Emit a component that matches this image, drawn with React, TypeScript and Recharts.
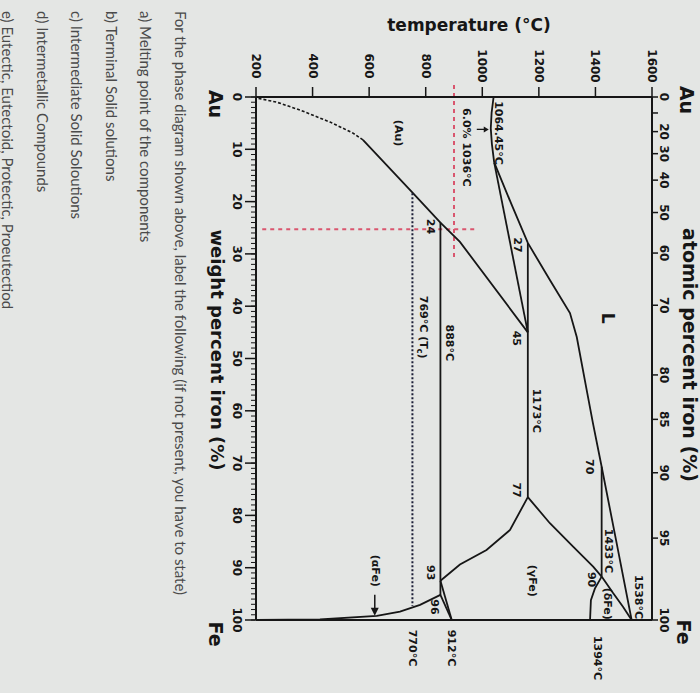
import React from "react";
import {
  ComposedChart,
  Line,
  XAxis,
  YAxis,
  ReferenceLine,
  ReferenceDot,
} from "recharts";

type Pt = { t: number; w: number };

// axis ticks: temperature (°C), weight % Fe, atomic % Fe
const tempTicks = [200, 400, 600, 800, 1000, 1200, 1400, 1600];
const tempMinorTicks = Array.from({ length: 71 }, (_, i) => 200 + i * 20);
const wtTicks = [0, 10, 20, 30, 40, 50, 60, 70, 80, 90, 100];
const wtMinorTicks = Array.from({ length: 101 }, (_, i) => i);
const atTicks = [0, 10, 20, 30, 40, 50, 60, 70, 80, 85, 90, 95, 100];
const atLabels = ["0", "", "20", "30", "40", "50", "60", "70", "80", "85", "90", "95", "100"];

// phase boundaries (t = °C, w = wt% Fe)
const auMelt: Pt[] = [
  { t: 1040, w: 0 }, { t: 1033, w: 3 }, { t: 1030, w: 6 }, { t: 1034, w: 9 }, { t: 1042, w: 12.5 },
];
const liquidus: Pt[] = [
  { t: 1042, w: 12.5 }, { t: 1103, w: 20.5 }, { t: 1161, w: 27.9 }, { t: 1239, w: 35 },
  { t: 1310, w: 41.3 }, { t: 1334, w: 45.9 }, { t: 1369, w: 56 }, { t: 1391, w: 62.3 },
  { t: 1422, w: 70.7 }, { t: 1475, w: 85.3 }, { t: 1528, w: 100 },
];
const auSolidus: Pt[] = [{ t: 1042, w: 12.5 }, { t: 1161, w: 45 }];
const peritectic1173: Pt[] = [{ t: 1161, w: 27.9 }, { t: 1161, w: 76.5 }];
const auSolvus: Pt[] = [
  { t: 1161, w: 45 }, { t: 921, w: 27.7 }, { t: 852, w: 24 }, { t: 755, w: 18.4 }, { t: 578, w: 8.2 },
];
const auSolvusDashed: Pt[] = [
  { t: 578, w: 8.2 }, { t: 543, w: 6.9 }, { t: 462, w: 4.8 }, { t: 356, w: 2.5 }, { t: 274, w: 1 }, { t: 204, w: 0.2 },
];
const eutectoid888: Pt[] = [{ t: 852, w: 24 }, { t: 852, w: 95.2 }];
const gammaSolvus: Pt[] = [
  { t: 1161, w: 76.5 }, { t: 1098, w: 82.8 }, { t: 1015, w: 86.6 }, { t: 921, w: 89.4 }, { t: 852, w: 92.5 },
];
const gammaUpper: Pt[] = [
  { t: 1161, w: 76.5 }, { t: 1239, w: 81.5 }, { t: 1322, w: 86 }, { t: 1392, w: 89.8 }, { t: 1422, w: 91.7 },
];
const peritectic1433: Pt[] = [{ t: 1422, w: 70.7 }, { t: 1422, w: 91.7 }];
const deltaGamma: Pt[] = [{ t: 1422, w: 91.7 }, { t: 1398, w: 94 }, { t: 1384, w: 96.2 }, { t: 1381, w: 100 }];
const deltaSolidus: Pt[] = [{ t: 1422, w: 91.7 }, { t: 1463, w: 94.9 }, { t: 1498, w: 97.5 }, { t: 1528, w: 100 }];
const gammaAlpha: Pt[] = [{ t: 852, w: 92.5 }, { t: 892, w: 100 }];
const alphaGamma: Pt[] = [{ t: 852, w: 95.2 }, { t: 892, w: 100 }];
const alphaSolvus: Pt[] = [
  { t: 852, w: 95.2 }, { t: 780, w: 97.1 }, { t: 709, w: 98.4 }, { t: 627, w: 99.2 }, { t: 426, w: 99.9 }, { t: 202, w: 100 },
];
const curieLine: Pt[] = [{ t: 753, w: 18.4 }, { t: 753, w: 97.3 }];

// red guide lines drawn on the photo
const guideWt = 25.3;
const guideWtFrom = 222;
const guideWtTo = 972;
const guideTemp = 900;
const guideTempFrom = -2.3;
const guideTempTo = 30.8;

const questionLines = [
  "For the phase diagram shown above, label the following (if not present, you have to state)",
  "a) Melting point of the components",
  "b) Terminal Solid solutions",
  "c) Intermediate Solid Soloutions",
  "d) Intermetallic Compounds",
  "e) Eutectic, Eutectoid, Protectic, Proeutectiod",
];

const atToWt = (a: number) => ((a * 55.845) / (a * 55.845 + (100 - a) * 196.967)) * 100;

const INK = "#161616";
const FONT = "DejaVu Sans";

type Lbl = { text: string; t: number; w: number; dx: number; dy: number; size?: number; sub?: string; tail?: string };

const labels: Lbl[] = [
  { text: "1064.45°C", t: 1040, w: 0, dx: 5, dy: 36 },
  { text: "6.0% 1036°C", t: 1030, w: 6, dx: -24, dy: 19 },
  { text: "(Au)", t: 702, w: 6.9, dx: 0, dy: 0 },
  { text: "24", t: 852, w: 24, dx: -10, dy: 4 },
  { text: "769°C (T", sub: "c", tail: ")", t: 753, w: 44, dx: 11, dy: 0 },
  { text: "888°C", t: 852, w: 47, dx: 9, dy: 0 },
  { text: "27", t: 1161, w: 27.9, dx: -10, dy: 2 },
  { text: "45", t: 1161, w: 45, dx: -11, dy: 6 },
  { text: "L", t: 1444, w: 42.3, dx: 0, dy: 0, size: 17 },
  { text: "1173°C", t: 1161, w: 60, dx: 9, dy: 0 },
  { text: "77", t: 1161, w: 76.5, dx: -11, dy: -7 },
  { text: "(γFe)", t: 1176, w: 92.5, dx: 0, dy: 0 },
  { text: "70", t: 1422, w: 70.7, dx: -12, dy: 0 },
  { text: "1433°C", t: 1422, w: 86.8, dx: 7, dy: 0 },
  { text: "90", t: 1422, w: 91.7, dx: -10, dy: 3 },
  { text: "(δFe)", t: 1441, w: 96.9, dx: 0, dy: 0 },
  { text: "1538°C", t: 1528, w: 100, dx: 7, dy: -23 },
  { text: "1394°C", t: 1381, w: 100, dx: 7, dy: 38 },
  { text: "93", t: 852, w: 92.5, dx: -10, dy: -8 },
  { text: "96", t: 852, w: 95.2, dx: -6, dy: 12 },
  { text: "(αFe)", t: 621, w: 90.6, dx: 0, dy: 0 },
  { text: "770°C", t: 753, w: 100, dx: 0, dy: 28 },
  { text: "912°C", t: 892, w: 100, dx: 0, dy: 28 },
];

const rot = (x: number, y: number) => `rotate(90 ${x} ${y})`;

const noTick = () => <g />;

const TopTick = (p: any) => {
  const x = p.x;
  const y = p.y - 19;
  return (
    <text x={x} y={y} transform={rot(x, y)} textAnchor="middle" dominantBaseline="central"
      fontFamily={FONT} fontWeight="bold" fontSize={12} fill={INK}>
      {p.payload.value}
    </text>
  );
};

const LeftTick = (p: any) => {
  const x = p.x - 6;
  const y = p.y;
  return (
    <text x={x} y={y} transform={rot(x, y)} textAnchor="middle" dominantBaseline="central"
      fontFamily={FONT} fontWeight="bold" fontSize={12} fill={INK}>
      {p.payload.value}
    </text>
  );
};

const RightTick = (p: any) => {
  const x = p.x + 4;
  const y = p.y;
  const lbl = atLabels[p.index] ?? "";
  return (
    <text x={x} y={y} transform={rot(x, y)} textAnchor="middle" dominantBaseline="central"
      fontFamily={FONT} fontWeight="bold" fontSize={12} fill={INK}>
      {lbl}
    </text>
  );
};

function phaseLine(key: string, data: Pt[], dash?: string, color = INK, width = 1.8) {
  return (
    <Line
      key={key}
      data={data}
      dataKey="w"
      xAxisId="t"
      yAxisId="w"
      type="linear"
      stroke={color}
      strokeWidth={width}
      strokeDasharray={dash}
      dot={false}
      activeDot={false}
      isAnimationActive={false}
    />
  );
}

export default function App() {
  return (
    <div style={{ position: "absolute", left: 0, top: 0, width: 700, height: 693, overflow: "hidden", background: "#e4e6e4" }}>
      <div style={{ position: "absolute", left: 0, top: 0 }}>
        {/* axes get 1px of box each (0 would hide them), margins make up for it */}
        <ComposedChart width={700} height={693} margin={{ top: 95, right: 47, bottom: 71, left: 254 }}>
          <XAxis xAxisId="t" dataKey="t" type="number" orientation="top" domain={[200, 1600]} allowDataOverflow
            ticks={tempTicks} interval={0} height={1} tickSize={10} tickMargin={2} tick={TopTick}
            axisLine={{ stroke: INK, strokeWidth: 2 }} tickLine={{ stroke: INK, strokeWidth: 1.5 }} />
          <XAxis xAxisId="tm" type="number" orientation="top" domain={[200, 1600]} allowDataOverflow
            ticks={tempMinorTicks} interval={0} height={1} tickSize={4} tick={noTick}
            axisLine={false} tickLine={{ stroke: INK, strokeWidth: 1 }} />
          <XAxis xAxisId="tb" type="number" orientation="bottom" domain={[200, 1600]} allowDataOverflow
            ticks={tempTicks} interval={0} height={1} tickSize={10} tick={noTick}
            axisLine={{ stroke: INK, strokeWidth: 2 }} tickLine={{ stroke: INK, strokeWidth: 1.5 }} />
          <XAxis xAxisId="tbm" type="number" orientation="bottom" domain={[200, 1600]} allowDataOverflow
            ticks={tempMinorTicks} interval={0} height={1} tickSize={4} tick={noTick}
            axisLine={false} tickLine={{ stroke: INK, strokeWidth: 1 }} />
          <YAxis yAxisId="w" type="number" orientation="left" domain={[0, 100]} reversed allowDataOverflow
            ticks={wtTicks} interval={0} width={1} tickSize={11} tickMargin={2} tick={LeftTick}
            axisLine={{ stroke: INK, strokeWidth: 2 }} tickLine={{ stroke: INK, strokeWidth: 1.5 }} />
          <YAxis yAxisId="wm" type="number" orientation="left" domain={[0, 100]} reversed allowDataOverflow
            ticks={wtMinorTicks} interval={0} width={1} tickSize={4} tick={noTick}
            axisLine={false} tickLine={{ stroke: INK, strokeWidth: 1 }} />
          <YAxis yAxisId="at" type="number" orientation="right" domain={[0, 100]} reversed allowDataOverflow
            ticks={atTicks.map(atToWt)} interval={0} width={1} tickSize={6} tickMargin={2} tick={RightTick}
            axisLine={{ stroke: INK, strokeWidth: 2 }} tickLine={{ stroke: INK, strokeWidth: 1.5 }} />

          <ReferenceLine xAxisId="t" yAxisId="w" ifOverflow="visible"
            segment={[{ x: guideWtFrom, y: guideWt }, { x: guideWtTo, y: guideWt }]}
            stroke="#d9566e" strokeWidth={2} strokeDasharray="4 4" />
          <ReferenceLine xAxisId="t" yAxisId="w" ifOverflow="visible"
            segment={[{ x: guideTemp, y: guideTempFrom }, { x: guideTemp, y: guideTempTo }]}
            stroke="#d9566e" strokeWidth={2} strokeDasharray="4 4" />

          {phaseLine("auMelt", auMelt)}
          {phaseLine("liquidus", liquidus)}
          {phaseLine("auSolidus", auSolidus)}
          {phaseLine("p1173", peritectic1173)}
          {phaseLine("auSolvus", auSolvus)}
          {phaseLine("auSolvusDashed", auSolvusDashed, "3 2", INK, 1.6)}
          {phaseLine("e888", eutectoid888)}
          {phaseLine("gammaSolvus", gammaSolvus)}
          {phaseLine("gammaUpper", gammaUpper)}
          {phaseLine("p1433", peritectic1433)}
          {phaseLine("deltaGamma", deltaGamma)}
          {phaseLine("deltaSolidus", deltaSolidus)}
          {phaseLine("gammaAlpha", gammaAlpha)}
          {phaseLine("alphaGamma", alphaGamma)}
          {phaseLine("alphaSolvus", alphaSolvus)}
          {phaseLine("curie", curieLine, "2 2", "#1c1f38", 2)}

          {labels.map((l) => (
            <ReferenceDot key={l.text} xAxisId="t" yAxisId="w" x={l.t} y={l.w} r={0} ifOverflow="visible"
              shape={(p: any) => {
                const x = p.cx + l.dx;
                const y = p.cy + l.dy;
                return (
                  <text x={x} y={y} transform={rot(x, y)} textAnchor="middle" dominantBaseline="central"
                    fontFamily={FONT} fontWeight="bold" fontSize={l.size ?? 11} fill={INK}>
                    {l.text}
                    {l.sub ? <tspan fontSize={8} dy={3}>{l.sub}</tspan> : null}
                    {l.tail ? <tspan dy={-3}>{l.tail}</tspan> : null}
                  </text>
                );
              }} />
          ))}

          {/* arrow to the 6.0% minimum */}
          <ReferenceDot xAxisId="t" yAxisId="w" x={1030} y={6} r={0} ifOverflow="visible"
            shape={(p: any) => (
              <g>
                <line x1={p.cx - 14} y1={p.cy + 1} x2={p.cx - 5} y2={p.cy + 1} stroke={INK} strokeWidth={1.3} />
                <polygon points={`${p.cx - 2},${p.cy + 1} ${p.cx - 7},${p.cy - 2} ${p.cx - 7},${p.cy + 4}`} fill={INK} />
              </g>
            )} />
          {/* arrow from (αFe) label to the boundary */}
          <ReferenceDot xAxisId="t" yAxisId="w" x={627} y={99.2} r={0} ifOverflow="visible"
            shape={(p: any) => (
              <g>
                <line x1={p.cx - 2} y1={p.cy - 21} x2={p.cx - 2} y2={p.cy - 6} stroke={INK} strokeWidth={1.5} />
                <polygon points={`${p.cx - 2},${p.cy} ${p.cx - 6},${p.cy - 8} ${p.cx + 2},${p.cy - 8}`} fill={INK} />
              </g>
            )} />
        </ComposedChart>
      </div>

      <svg width={700} height={693} style={{ position: "absolute", left: 0, top: 0, pointerEvents: "none" }}>
        <text x={469} y={25} textAnchor="middle" dominantBaseline="central" fontFamily={FONT} fontWeight="bold" fontSize={17} fill={INK}>
          temperature (°C)
        </text>
        <text x={690} y={355} transform={rot(690, 355)} textAnchor="middle" dominantBaseline="central" fontFamily={FONT} fontWeight="bold" fontSize={19} fill={INK}>
          atomic percent iron (%)
        </text>
        <text x={217} y={350} transform={rot(217, 350)} textAnchor="middle" dominantBaseline="central" fontFamily={FONT} fontWeight="bold" fontSize={18} fill={INK}>
          weight percent iron (%)
        </text>
        {[
          { s: "Au", x: 687, y: 100 },
          { s: "Fe", x: 684, y: 632 },
          { s: "Au", x: 216, y: 104 },
          { s: "Fe", x: 216, y: 634 },
        ].map((e, i) => (
          <text key={i} x={e.x} y={e.y} transform={rot(e.x, e.y)} textAnchor="middle" dominantBaseline="central"
            fontFamily={FONT} fontWeight="bold" fontSize={19} fill={INK}>
            {e.s}
          </text>
        ))}
        {questionLines.map((q, i) => {
          const x = 181 - i * 34.6;
          return (
            <text key={i} x={x} y={11} transform={rot(x, 11)} dominantBaseline="central"
              fontFamily="Lato" fontSize={15} fill="#4a4a4a">
              {q}
            </text>
          );
        })}
      </svg>
    </div>
  );
}
